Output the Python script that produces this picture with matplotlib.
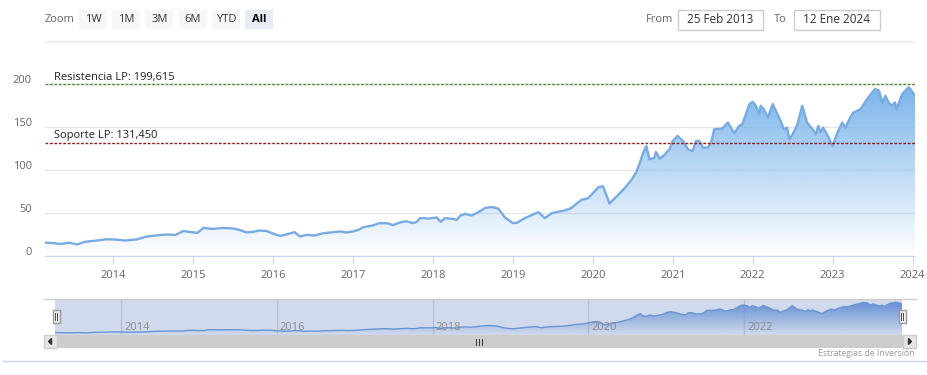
import numpy as np
import matplotlib
matplotlib.use("Agg")
import matplotlib.pyplot as plt
from matplotlib.patches import Rectangle, Polygon
from matplotlib.lines import Line2D
from matplotlib.transforms import ScaledTranslation, blended_transform_factory

#_____________________________________________________________________________
# data (decimal year, price)
t_year = [
    2013.15, 2013.25, 2013.35, 2013.45, 2013.55, 2013.65, 2013.80, 2013.92,
    2014.05, 2014.15, 2014.30, 2014.42, 2014.55, 2014.67, 2014.78, 2014.88,
    2015.00, 2015.06, 2015.13, 2015.25, 2015.38, 2015.50, 2015.58, 2015.67, 2015.75, 2015.82, 2015.92,
    2016.01, 2016.09, 2016.17, 2016.27, 2016.34, 2016.42, 2016.52, 2016.63, 2016.75, 2016.84, 2016.92,
    2017.00, 2017.07, 2017.13, 2017.25, 2017.33, 2017.44, 2017.50, 2017.59, 2017.67, 2017.75, 2017.80, 2017.84, 2017.96,
    2018.05, 2018.10, 2018.15, 2018.25, 2018.30, 2018.34, 2018.41, 2018.48, 2018.55, 2018.66, 2018.74, 2018.82, 2018.90,
    2019.00, 2019.05, 2019.15, 2019.32, 2019.40, 2019.49, 2019.65, 2019.73, 2019.86, 2019.94,
    2020.07, 2020.13, 2020.21, 2020.30, 2020.40, 2020.48, 2020.54, 2020.59, 2020.63, 2020.67, 2020.71, 2020.77, 2020.79, 2020.84, 2020.90, 2020.96,
    2021.00, 2021.06, 2021.13, 2021.19, 2021.25, 2021.29, 2021.33, 2021.38, 2021.44, 2021.48, 2021.52, 2021.62, 2021.69, 2021.77, 2021.83, 2021.87, 2021.96,
    2022.00, 2022.04, 2022.08, 2022.10, 2022.14, 2022.19, 2022.25, 2022.29, 2022.35, 2022.39, 2022.43, 2022.46, 2022.50, 2022.56, 2022.62, 2022.68, 2022.75, 2022.79, 2022.82, 2022.85, 2022.88, 2022.93,
    2023.00, 2023.06, 2023.12, 2023.16, 2023.22, 2023.26, 2023.35, 2023.43, 2023.53, 2023.58, 2023.62, 2023.66, 2023.70, 2023.74, 2023.78, 2023.80, 2023.87, 2023.95, 2023.97, 2024.03,
]
precio = [
    15.5, 15.0, 14.0, 15.5, 13.5, 16.5, 18.0, 19.5,
    19.0, 18.0, 19.3, 22.6, 24.0, 25.0, 24.5, 29.0,
    27.5, 27.0, 32.7, 31.5, 32.7, 32.0, 30.4, 27.5, 28.0, 29.6, 29.2,
    25.7, 23.4, 25.0, 27.7, 22.6, 24.6, 23.8, 26.5, 27.7, 28.5, 27.4,
    28.5, 30.4, 33.5, 35.5, 38.2, 38.0, 35.9, 39.0, 40.5, 38.2, 39.8, 44.0, 43.6,
    44.8, 39.8, 44.0, 43.2, 42.0, 46.8, 49.0, 47.0, 50.0, 56.0, 57.0, 55.0, 45.0,
    38.3, 38.5, 44.0, 51.0, 44.0, 50.0, 53.0, 55.7, 65.5, 67.0,
    80.0, 81.0, 61.0, 69.4, 79.0, 88.0, 96.7, 108.4, 120.0, 127.9, 112.3, 114.2, 120.9, 113.0, 118.1, 124.0,
    133.7, 139.6, 133.7, 124.0, 122.0, 133.7, 133.7, 126.0, 126.0, 131.8, 147.4, 148.2, 155.2, 142.7, 151.3, 153.2, 176.6,
    179.3, 174.7, 164.9, 174.7, 170.8, 161.0, 176.6, 168.8, 157.1, 147.4, 149.3, 135.7, 141.5, 153.2, 174.7, 155.2, 147.4, 141.5, 151.3, 143.5, 149.3, 141.5,
    127.9, 143.5, 155.2, 149.3, 161.0, 166.9, 170.8, 182.5, 194.2, 192.2, 178.6, 186.3, 178.6, 174.7, 178.6, 170.8, 188.3, 196.1, 194.2, 186.3,
]

resistencia = 199.615
soporte = 131.450

y_ticks = [0, 50, 100, 150, 200, 250]
x_ticks = list(range(2014, 2025))
nav_ticks = [2014, 2016, 2018, 2020, 2022]

zoom_buttons = ["1W", "1M", "3M", "6M", "YTD", "All"]
date_from = "25 Feb 2013"
date_to = "12 Ene 2024"
credit = "Estrategias de Inversión"

W, H = 928, 375

#_____________________________________________________________________________
def main():

    plt.rcParams["font.family"] = ["Open Sans", "DejaVu Sans"]

    fig = plt.figure(figsize=(W/100, H/100), dpi=100)
    fig.patch.set_facecolor("white")

    plot_main(fig)
    plot_navigator(fig)
    draw_controls(fig)

    fig.savefig("out.png", dpi=100)
    plt.close()

#main

#_____________________________________________________________________________
def box(x0, y0, x1, y1):

    return [x0/W, 1 - y1/H, (x1 - x0)/W, (y1 - y0)/H]

#box

#_____________________________________________________________________________
def fx(x):
    return x/W

def fy(y):
    return 1 - y/H

#_____________________________________________________________________________
def area_gradient(ax, x, y, rgb, ybot, atop=1.0):

    verts = [(x[0], ybot)] + list(zip(x, y)) + [(x[-1], ybot)]
    poly = Polygon(verts, closed=True, facecolor="none", edgecolor="none")
    ax.add_patch(poly)

    grad = np.zeros((256, 1, 4))
    grad[:, :, :3] = rgb
    grad[:, 0, 3] = np.linspace(atop, 0.0, 256)
    im = ax.imshow(grad, extent=[x[0], x[-1], ybot, max(y)], origin="upper",
                   aspect="auto", interpolation="bilinear", zorder=1)
    im.set_clip_path(poly)

#area_gradient

#_____________________________________________________________________________
def plot_main(fig):

    ax = fig.add_axes(box(45, 41, 915, 256))

    rgb = np.array([124, 181, 236])/255.
    area_gradient(ax, t_year, precio, rgb, 0)
    ax.plot(t_year, precio, color="#78abe0", lw=1.7, zorder=3, solid_joinstyle="round")

    ax.set_xlim(t_year[0], t_year[-1])
    ax.set_ylim(0, 250)

    #grid and axes
    ax.set_yticks(y_ticks)
    ax.set_yticklabels([str(v) if v < 250 else "" for v in y_ticks])
    ax.yaxis.grid(True, color="#e6e6e6", lw=1)
    ax.set_axisbelow(True)
    for s in ["top", "left", "right"]:
        ax.spines[s].set_visible(False)
    ax.spines["bottom"].set_color("#ccd6eb")

    ax.set_xticks(x_ticks)
    ax.set_xticklabels([str(v) for v in x_ticks])
    ax.tick_params(axis="x", length=6, color="#ccd6eb", labelsize=8, labelcolor="#666666", pad=4)
    ax.tick_params(axis="y", length=0, labelsize=8, labelcolor="#666666", pad=9.5)
    up = ScaledTranslation(0, 5/100, fig.dpi_scale_trans)
    for lab in ax.get_yticklabels():
        lab.set_transform(lab.get_transform() + up)

    #support / resistance
    ax.axhline(resistencia, color="#4e8c3a", lw=1, ls=(0, (2, 1.2)), zorder=4)
    ax.axhline(soporte, color="#8b1c1c", lw=1, ls=(0, (2, 1.2)), zorder=4)

    tr = blended_transform_factory(ax.transAxes, ax.transData)
    tr = tr + ScaledTranslation(0, 1.5/100, fig.dpi_scale_trans)
    ax.text(0.0105, resistencia, "Resistencia LP: %s" % ("%.3f" % resistencia).replace(".", ","),
            transform=tr, fontsize=8, color="#222222", va="bottom", ha="left", zorder=5)
    ax.text(0.0105, soporte, "Soporte LP: %s" % ("%.3f" % soporte).replace(".", ","),
            transform=tr, fontsize=8, color="#222222", va="bottom", ha="left", zorder=5)

#plot_main

#_____________________________________________________________________________
def plot_navigator(fig):

    nav = fig.add_axes(box(55, 299, 902, 335))
    nav.set_facecolor("white")
    for s in nav.spines.values():
        s.set_visible(False)
    nav.set_xticks([])
    nav.set_yticks([])

    for yr in nav_ticks:
        nav.axvline(yr, color="#dcdcdc", lw=1, zorder=0)

    rgb = np.array([102, 150, 220])/255.
    area_gradient(nav, t_year, precio, rgb, 1)
    nav.plot(t_year, precio, color="#6a9ddc", lw=1, zorder=3)

    nav.set_xlim(t_year[0], t_year[-1])
    nav.set_ylim(1, 215)

    nav.axvspan(t_year[0], t_year[-1], color=(102/255., 133/255., 194/255.), alpha=0.3, lw=0, zorder=4)

    tr = blended_transform_factory(nav.transData, nav.transAxes)
    tr = tr + ScaledTranslation(3/100, 0, fig.dpi_scale_trans)
    for yr in nav_ticks:
        nav.text(yr, 0.2, str(yr), transform=tr, fontsize=8, color="#8a8a8a",
                 ha="left", va="center", zorder=5)

    #outline
    fig.add_artist(Line2D([fx(44), fx(916)], [fy(299), fy(299)], color="#cccccc", lw=1))

    #handles
    for xh in [53, 899]:
        fig.add_artist(Rectangle((fx(xh), fy(323)), 7/W, 13/H, transform=fig.transFigure,
                                 facecolor="#f2f2f2", edgecolor="#999999", lw=1, zorder=6))
        for dx in [2.5, 4.5]:
            fig.add_artist(Line2D([fx(xh + dx), fx(xh + dx)], [fy(313), fy(320)],
                                  color="#333333", lw=0.6, zorder=7))

    #scrollbar
    fig.add_artist(Rectangle((fx(44), fy(348)), 872/W, 13/H, transform=fig.transFigure,
                             facecolor="#cccccc", edgecolor="none"))
    for xb in [44, 903]:
        fig.add_artist(Rectangle((fx(xb), fy(348)), 13/W, 13/H, transform=fig.transFigure,
                                 facecolor="#e6e6e6", edgecolor="#cccccc", lw=1))
    fig.add_artist(Polygon([(fx(48.5), fy(341.5)), (fx(51.5), fy(338.5)), (fx(51.5), fy(344.5))],
                           closed=True, transform=fig.transFigure, color="#333333"))
    fig.add_artist(Polygon([(fx(911.5), fy(341.5)), (fx(908.5), fy(338.5)), (fx(908.5), fy(344.5))],
                           closed=True, transform=fig.transFigure, color="#333333"))
    for xr in [476.5, 479.5, 482.5]:
        fig.add_artist(Line2D([fx(xr), fx(xr)], [fy(338.5), fy(344.5)], color="#333333", lw=0.7))

    #bottom separator and credit
    fig.add_artist(Line2D([fx(3), fx(927)], [fy(361), fy(361)], color="#ccd6eb", lw=1))
    fig.text(fx(915), fy(354), credit, ha="right", va="center", fontsize=6.2, color="#999999")

#plot_navigator

#_____________________________________________________________________________
def draw_controls(fig):

    fig.text(fx(45), fy(19.5), "Zoom", ha="left", va="center", fontsize=8, color="#666666")

    x0 = 79
    for i, lab in enumerate(zoom_buttons):
        xl = x0 + i*33.2
        sel = (lab == "All")
        fig.add_artist(Rectangle((fx(xl), fy(29)), 28/W, 19/H, transform=fig.transFigure,
                                 facecolor="#e6ebf5" if sel else "#f7f7f7", edgecolor="none"))
        fig.text(fx(xl + 14), fy(19.5), lab, ha="center", va="center", fontsize=8,
                 color="#000000" if sel else "#333333", fontweight="bold" if sel else "normal")

    fig.text(fx(646), fy(19.5), "From", ha="left", va="center", fontsize=8, color="#666666")
    fig.add_artist(Rectangle((fx(678), fy(30)), 85/W, 20/H, transform=fig.transFigure,
                             facecolor="white", edgecolor="#cccccc", lw=1))
    fig.text(fx(720.5), fy(19.5), date_from, ha="center", va="center", fontsize=8.5, color="#333333")

    fig.text(fx(774), fy(19.5), "To", ha="left", va="center", fontsize=8, color="#666666")
    fig.add_artist(Rectangle((fx(794), fy(30)), 86/W, 20/H, transform=fig.transFigure,
                             facecolor="white", edgecolor="#cccccc", lw=1))
    fig.text(fx(837), fy(19.5), date_to, ha="center", va="center", fontsize=8.5, color="#333333")

#draw_controls

#_____________________________________________________________________________
if __name__ == "__main__":

    main()
